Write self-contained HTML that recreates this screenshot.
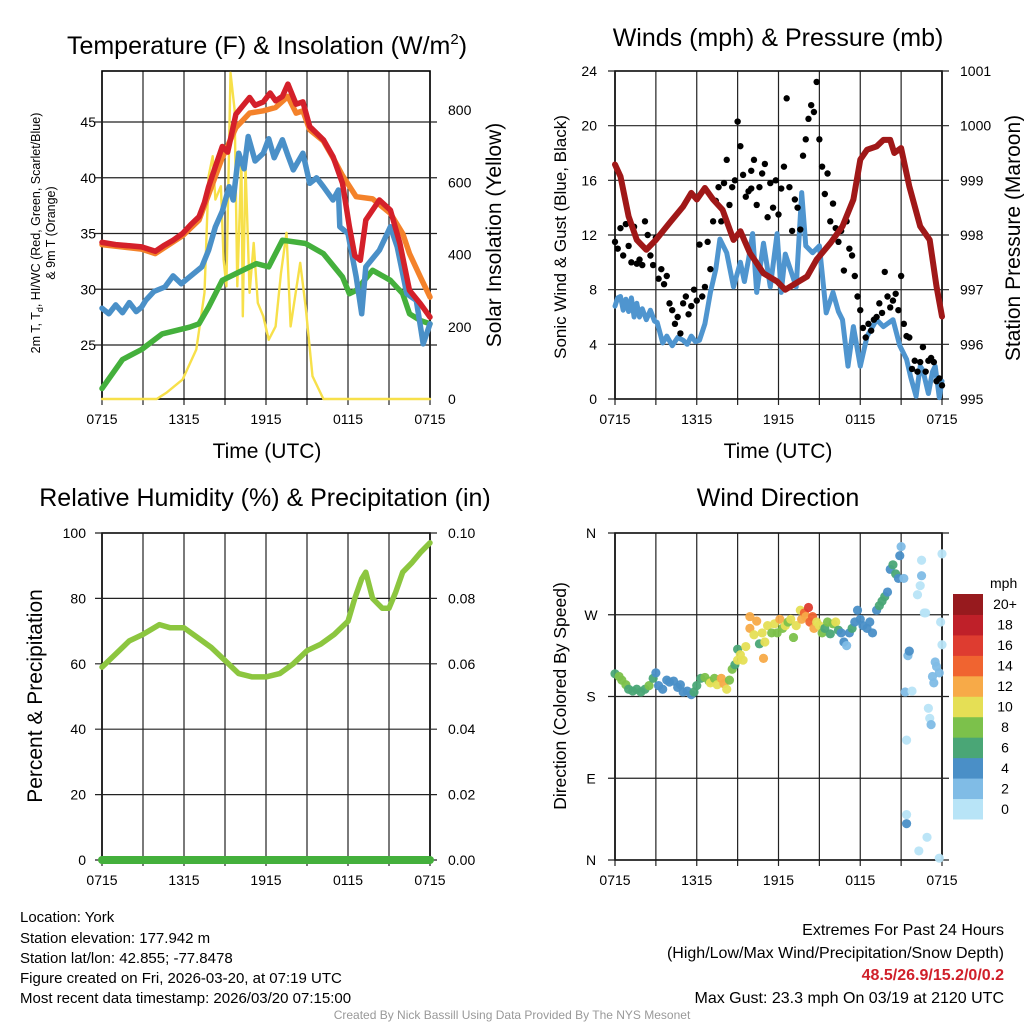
<!DOCTYPE html>
<html><head><meta charset="utf-8"><style>
html,body{margin:0;padding:0;background:#fff;}
svg{display:block;font-family:"Liberation Sans",sans-serif;}
</style></head><body>
<svg id="chart" width="1024" height="1024" viewBox="0 0 1024 1024" xmlns="http://www.w3.org/2000/svg">
<rect x="0" y="0" width="1024" height="1024" fill="#fff"/>
<text x="267" y="54" font-size="25" text-anchor="middle">Temperature (F) &amp; Insolation (W/m<tspan dy="-10" font-size="15">2</tspan><tspan dy="10">)</tspan></text>
<text x="778" y="46" font-size="25" text-anchor="middle">Winds (mph) &amp; Pressure (mb)</text>
<text x="265" y="506" font-size="25" text-anchor="middle">Relative Humidity (%) &amp; Precipitation (in)</text>
<text x="778" y="506" font-size="25" text-anchor="middle">Wind Direction</text>

<text transform="translate(40,233) rotate(-90)" font-size="12.5" text-anchor="middle">2m T, T<tspan dy="3" font-size="9">d</tspan><tspan dy="-3">, HI/WC (Red, Green, Scarlet/Blue)</tspan></text>
<text transform="translate(55,233) rotate(-90)" font-size="12.5" text-anchor="middle">&amp; 9m T (Orange)</text>
<text transform="translate(501,235) rotate(-90)" font-size="21" text-anchor="middle">Solar Insolation (Yellow)</text>
<text transform="translate(566,237) rotate(-90)" font-size="17" text-anchor="middle">Sonic Wind &amp; Gust (Blue, Black)</text>
<text transform="translate(1020,238) rotate(-90)" font-size="21" text-anchor="middle">Station Pressure (Maroon)</text>
<text transform="translate(42,696) rotate(-90)" font-size="21" text-anchor="middle">Percent &amp; Precipitation</text>
<text transform="translate(566,696) rotate(-90)" font-size="17.5" text-anchor="middle">Direction (Colored By Speed)</text>
<text x="267" y="458" font-size="21" text-anchor="middle">Time (UTC)</text>
<text x="778" y="458" font-size="21" text-anchor="middle">Time (UTC)</text>
<text x="990" y="588" font-size="14" text-anchor="start">mph</text>

<g font-size="15">
<text x="20" y="922">Location: York</text>
<text x="20" y="943">Station elevation: 177.942 m</text>
<text x="20" y="963">Station lat/lon: 42.855; -77.8478</text>
<text x="20" y="983">Figure created on Fri, 2026-03-20, at 07:19 UTC</text>
<text x="20" y="1003">Most recent data timestamp: 2026/03/20 07:15:00</text>
</g>
<g font-size="16" text-anchor="end">
<text x="1004" y="935">Extremes For Past 24 Hours</text>
<text x="1004" y="958">(High/Low/Max Wind/Precipitation/Snow Depth)</text>
<text x="1004" y="980" fill="#d0202a" font-weight="bold">48.5/26.9/15.2/0/0.2</text>
<text x="1004" y="1003">Max Gust: 23.3 mph On 03/19 at 2120 UTC</text>
</g>
<text x="512" y="1019" font-size="12" fill="#999" text-anchor="middle">Created By Nick Bassill Using Data Provided By The NYS Mesonet</text>
</svg>
<script>
// ---- data ----
const timeTickLabels = ['0715','1315','1915','0115','0715'];
const tempTicks = [25,30,35,40,45];
const solarTicks = [0,200,400,600,800];
const windTicks = [0,4,8,12,16,20,24];
const presTicks = [995,996,997,998,999,1000,1001];
const rhTicks = [0,20,40,60,80,100];
const precipTickLabels = ['0.00','0.02','0.04','0.06','0.08','0.10'];
const dirTickLabels = ['N','E','S','W','N'];
const speedBinLabels = ['0','2','4','6','8','10','12','14','16','18','20+'];
const speedBinColors = ['#b8e4f7','#80bce6','#4a8fc7','#4aa676','#7cc14b','#e5df55','#f7aa48','#f06430','#de3c30','#bf2029','#971a1e'];

const redT_h = [0,1,2,2.9,3.9,4.5,5.2,5.9,6.5,7.1,7.5,7.8,8.3,8.8,9.2,9.8,10.2,10.8,11.2,11.8,12.3,12.7,13.2,13.6,14.2,14.7,15.2,16.2,16.9,17.6,18.1,18.5,18.9,19.3,20.3,21.1,21.8,22.5,23.3,24];
const redT_v = [34.2,34.0,33.9,33.8,33.4,33.9,34.4,35.0,35.8,36.5,37.8,39.2,41.0,42.8,42.3,45.7,46.3,47.2,46.5,46.8,47.6,46.9,47.3,48.4,46.6,46.8,44.6,43.4,41.9,39.5,35.6,33.0,32.6,36.2,38.0,37.1,34.1,29.9,28.7,27.5];
const orgT_h = [0,2.9,3.9,5.9,7.1,7.8,8.8,9.8,10.8,11.8,12.7,13.6,14.2,14.7,15.2,16.2,16.9,17.6,18.6,19.8,21.1,22,22.5,23.3,24];
const orgT_v = [34.0,33.6,33.2,34.8,36.2,38.5,41.8,44.5,45.8,46.0,46.3,47.3,45.8,46.0,44.3,43.3,41.8,40.2,38.3,38.1,36.8,35,33.2,31.1,29.3];
const blueT_h = [0,0.5,1,1.5,2,2.5,2.9,3.2,3.8,4.6,5.2,5.8,6.4,7.3,7.8,8.3,8.8,9.3,9.6,10,10.4,10.7,11.2,11.8,12.2,12.6,13.2,13.6,14,14.7,15.2,15.7,16.2,16.9,17.3,17.4,18,18.6,19,19.3,20.3,21.1,21.6,22.3,23,23.5,24];
const blueT_v = [28.3,27.8,28.6,27.9,28.8,28.0,28.4,29.0,29.8,30.2,31.2,30.5,31.1,32.0,33.5,35.6,37.0,39.2,38.0,42.2,40.8,43.7,41.5,42.2,43.5,41.8,43.4,42.0,40.7,42.2,39.5,40.0,39.2,38.0,38.9,35.6,35.0,31.1,27.8,32.0,33.5,35.6,33.8,29.6,29.0,25.1,26.9];
const grnT_h = [0,1.5,2.9,4.4,6.4,7.1,7.8,8.8,9.8,11.3,12.2,13.2,14.9,16.2,17.6,18.1,18.6,19.8,21.1,22,22.5,23.3,24];
const grnT_v = [21.1,23.7,24.6,26.0,26.6,26.9,28.4,30.8,31.4,32.3,32.0,34.4,34.1,33.2,31.1,29.6,29.9,31.7,30.8,29.6,27.8,27.2,26.9];
const solar_h = [0,4.0,4.7,5.9,6.9,7.5,7.8,8.1,8.3,8.7,8.9,9.1,9.4,9.7,9.9,10.2,10.3,10.5,10.8,11.1,11.4,11.8,12.2,12.7,13.1,13.5,13.8,14.5,14.9,15.4,16.2,24];
const solar_v = [0,0,17,54,137,294,617,672,552,589,386,312,903,801,312,663,229,645,294,432,266,229,164,201,349,460,201,377,257,63,0,0];

const pres_h = [0,0.4,1,1.6,2.3,3,4,5,5.6,6,6.6,7.2,7.9,8.7,9.2,9.9,10.9,11.9,12.5,13.3,14.1,14.8,15.8,16.7,17.5,18,18.5,19.2,19.7,20.2,20.5,21,21.6,22.4,23.1,23.6,24];
const pres_v = [999.29,999.07,998.34,997.91,997.73,997.91,998.22,998.52,998.77,998.65,998.86,998.65,998.46,997.91,998.07,997.67,997.3,997.15,997.0,997.12,997.24,997.55,997.85,998.16,998.65,999.38,999.56,999.62,999.74,999.74,999.5,999.59,998.89,998.16,997.91,997.06,996.51];
const wind_h = [0,0.2,0.4,0.6,0.8,1,1.2,1.4,1.6,1.8,2,2.3,2.6,2.9,3.1,3.5,3.8,4.2,4.6,5,5.3,5.6,5.9,6.2,6.6,7,7.4,7.7,8.2,8.7,9.2,9.5,9.8,10.1,10.4,10.9,11.4,11.9,12.2,12.5,12.8,13.3,13.7,14,14.5,15,15.5,16,16.4,16.7,17.1,17.5,18,18.5,19.2,19.7,20.4,20.9,21.4,21.7,22.1,22.4,22.6,23,23.3,23.5,23.8,24];
const wind_v = [6.8,7.4,7.5,6.5,7.3,6.4,7.4,6.0,7.0,6.0,6.6,5.8,6.5,5.7,5.6,4.1,4.6,3.9,4.5,4.3,4.0,4.6,4.2,4.3,5.5,7.8,9.5,11.7,10.7,8.2,10.0,8.6,10.2,12.1,7.8,11.4,8.2,12.1,7.8,10.6,9.7,8.2,15.1,11.2,10.7,11.2,6.3,7.8,6.4,5.8,2.4,5.3,2.4,4.6,5.8,5.3,5.8,3.9,2.9,1.6,0.2,2.4,2.1,0.4,2.0,2.4,0.1,1.3];
const gust_h = [0,0.2,0.4,0.6,0.8,1,1.2,1.4,1.6,1.8,2,2.2,2.4,2.6,2.8,3,3.2,3.4,3.6,3.8,4,4.2,4.4,4.6,4.8,5,5.2,5.4,5.6,5.8,6,6.2,6.4,6.6,6.8,7,7.2,7.4,7.6,7.8,8,8.2,8.4,8.6,8.8,9,9.2,9.4,9.6,9.8,10,10,10.2,10.4,10.6,10.8,11,11.2,11.4,11.6,11.8,12,12.2,12.4,12.6,12.8,13,13.2,13.4,13.6,13.8,14,14.2,14.4,14.6,14.8,15,15.2,15.4,15.6,15.8,16,16.2,16.4,16.6,16.8,17,17.2,17.4,17.6,17.8,18,18.2,18.4,18.6,18.8,19,19.2,19.4,19.6,19.8,20,20.2,20.4,20.6,20.8,21,21.2,21.4,21.6,21.8,22,22.2,22.4,22.6,22.8,23,23.2,23.4,23.6,23.8,24];
const gust_v = [11.5,11,12.5,10.5,12.8,11.2,10,12.6,9.9,10.2,9.8,13,12,10.5,9.8,11.8,8.8,9.5,8.4,9,7,6.5,5.5,6,4.8,7,7.5,6.2,6.8,8,7.2,11.3,7.5,8.2,11.5,9.5,13,14.5,15.5,13,15.8,17.5,14.2,15.5,16,20.3,18.5,16.4,14.8,15.2,16.7,15.4,17.5,14.2,15.5,16.5,17.2,13.3,15.8,14,16,13.5,15.4,17,22,15.5,12.3,14.6,14,12.4,17.8,19,20.5,21.5,21,23.2,19,17,15,16.5,13,14.3,12.5,11.5,12.3,9.4,13,11,10.5,9,7.5,6.5,5.2,4.5,5.5,5,5.8,6,7,6.3,9.3,7.5,6.7,7.2,7.7,6.5,9,5.5,4.6,4.5,2.2,2.8,2,2.7,3.8,2,2.8,3,2.7,1.3,1.5,1];

const rh_h = [0,1,2,3,4.2,5,6,7,8,9,10,11,12,13,14,15,16,17,18,18.5,19,19.3,19.8,20.5,21,21.5,22,22.7,23.3,24];
const rh_v = [59,63,67,69,72,71,71,68,65,61,57,56,56,57,60,64,66,69,73,80,86,88,80,77,77,82,88,91,94,97];
const precip_h = [0,24];
const precip_v = [0,0];

const dir_h = [0,0.3,0.5,0.8,1,1.3,1.6,1.9,2.2,2.5,2.8,3,3.2,3.5,3.8,4,4.3,4.6,4.8,5,5.3,5.6,5.8,6,6.3,6.6,6.9,7,7.3,7.5,7.8,8,8.2,8.4,8.6,8.8,9,9,9.2,9.4,9.6,9.9,9.9,10.2,10.4,10.6,10.8,10.9,11,11.2,11.5,11.7,11.9,12.1,12.3,12.5,12.7,12.9,13.1,13.3,13.6,13.7,13.9,14,14.2,14.3,14.5,14.6,14.8,15,15.2,15.4,15.6,15.8,16,16.2,16.4,16.6,16.8,17,17.2,17.4,17.6,17.8,18,18.2,18.5,18.7,18.9,19.2,19.4,19.6,19.8,20,20.2,20.4,20.6,20.8,20.9,21,21.2,21.5,21.6,21.3,21.4,21.4,21.4,21.8,22.2,22.4,22.5,22.5,22.7,22.8,23,23.1,23.2,23.3,23.4,23.6,23.5,23.8,23.9,24,24,22.3,22.9,23.8];
const dir_v = [205,202,198,193,188,186,188,185,188,192,200,206,192,188,198,196,197,190,193,185,186,182,185,192,200,201,197,195,200,193,200,194,188,198,210,215,232,220,226,220,235,255,268,248,263,238,250,222,240,258,250,260,250,265,255,258,262,265,245,258,275,265,272,268,278,262,268,255,262,258,250,255,262,249,260,262,253,250,240,236,250,255,262,275,265,258,255,262,250,275,280,285,290,295,320,325,315,310,335,345,310,225,230,185,132,50,40,186,292,302,313,330,272,272,167,156,149,202,195,213,218,206,262,237,337,10,25,2];
const dir_s = [6,8,8,8,6,6,6,6,6,8,6,4,4,4,4,4,4,4,4,4,4,4,6,6,6,8,8,10,8,10,12,12,10,8,8,6,6,10,10,10,10,12,12,10,12,6,10,12,10,10,8,10,8,12,8,10,8,10,8,10,10,12,14,12,16,14,14,12,10,10,8,6,8,6,8,10,6,4,4,2,4,6,4,4,4,4,4,4,4,4,6,6,6,4,4,6,6,4,4,2,2,2,4,2,0,0,4,0,0,0,2,0,0,0,0,0,2,2,2,2,2,2,0,0,0,0,0,0];

// ---- drawing ----
const NS='http://www.w3.org/2000/svg';
const svg=document.getElementById('chart');
function mk(tag,attrs){const e=document.createElementNS(NS,tag);for(const k in attrs)e.setAttribute(k,attrs[k]);svg.appendChild(e);return e;}
function lin(d0,d1,r0,r1){return v=>r0+(v-d0)/(d1-d0)*(r1-r0);}
const P1={x0:102,x1:430,y0:71,y1:399}, P2={x0:615,x1:942,y0:71,y1:399}, P3={x0:102,x1:430,y0:533,y1:860}, P4={x0:615,x1:942,y0:533,y1:860};
const x1s=lin(0,24,P1.x0,P1.x1), x2s=lin(0,24,P2.x0,P2.x1), x3s=lin(0,24,P3.x0,P3.x1), x4s=lin(0,24,P4.x0,P4.x1);
const tS=lin(25,45,345,122), solS=lin(0,800,399,110);
const wS=lin(0,24,399,71), pS=lin(995,1001,399,71);
const rhS=lin(0,100,860,533), prS=lin(0,0.1,860,533);
const dS=lin(0,360,860,533);

function frame(P,name){
  for(let i=0;i<=8;i++){const x=P.x0+(P.x1-P.x0)*i/8;
    const g=mk('line',{x1:x,x2:x,y1:P.y0,y2:P.y1+6,stroke:'#222','stroke-width':1.2});
    
    }
  const r=mk('rect',{x:P.x0,y:P.y0,width:P.x1-P.x0,height:P.y1-P.y0,fill:'none',stroke:'#000','stroke-width':1.6});
  
  
  timeTickLabels.forEach((t,i)=>{const x=P.x0+(P.x1-P.x0)*i/4;
    const tx=mk('text',{x:x,y:P.y1+25,'font-size':14,'text-anchor':'middle'});tx.textContent=t;
    
    });
}
function hgrid(P,y,name){const g=mk('line',{x1:P.x0-7,x2:P.x1+7,y1:y,y2:y,stroke:'#222','stroke-width':1.2});
  
  }
function label(x,y,t,anchor,name){const tx=mk('text',{x:x,y:y+5,'font-size':14,'text-anchor':anchor});tx.textContent=t;
  
  }
function pathOf(hs,vs,xs,ys){return hs.map((h,i)=>(i?'L':'M')+xs(h).toFixed(1)+','+ys(vs[i]).toFixed(1)).join('');}
function line(hs,vs,xs,ys,color,w,name){const p=mk('path',{d:pathOf(hs,vs,xs,ys),fill:'none',stroke:color,'stroke-width':w,'stroke-linejoin':'round','stroke-linecap':'round'});
  
  }

// Panel 1
frame(P1,'temp');
tempTicks.forEach(t=>{hgrid(P1,tS(t),'temp');label(96,tS(t),String(t),'end','temp-y-tick-label');});
solarTicks.forEach(t=>{label(448,solS(t),String(t),'start','solar-y-tick-label');});
line(solar_h,solar_v,x1s,solS,'#f7e04a',2.4,'solar-insolation-line');
line(grnT_h,grnT_v,x1s,tS,'#44b03c',5.5,'dewpoint-line');
line(blueT_h,blueT_v,x1s,tS,'#4a90c8',5.5,'heat-index-windchill-line');
line(orgT_h,orgT_v,x1s,tS,'#f4822a',5.5,'temp-9m-line');
line(redT_h,redT_v,x1s,tS,'#d4202a',5.5,'temp-2m-line');

// Panel 2
frame(P2,'wind');
windTicks.forEach(t=>{hgrid(P2,wS(t),'wind');label(597,wS(t),String(t),'end','wind-y-tick-label');});
presTicks.forEach(t=>{label(960,pS(t),String(t),'start','pressure-y-tick-label');});
line(wind_h,wind_v,x2s,wS,'#4f95cf',5,'sonic-wind-line');
gust_h.forEach((h,i)=>{const c=mk('circle',{cx:x2s(h),cy:wS(gust_v[i]),r:3.2,fill:'#000'});
  
  });
line(pres_h,pres_v,x2s,pS,'#a01818',6,'pressure-line');

// Panel 3
frame(P3,'rh');
rhTicks.forEach((t,i)=>{hgrid(P3,rhS(t),'rh');label(86,rhS(t),String(t),'end','rh-y-tick-label');label(448,rhS(t),precipTickLabels[i],'start','precip-y-tick-label');});
line(rh_h,rh_v,x3s,rhS,'#8cc63f',5.5,'rh-line');
line(precip_h,precip_v,x3s,prS,'#44b03c',8,'precip-line');

// Panel 4
frame(P4,'dir');
dirTickLabels.forEach((t,i)=>{const y=dS(i*90);hgrid(P4,y,'dir');label(591,y,t,'middle','dir-y-tick-label');});
dir_h.forEach((h,i)=>{const bin=Math.min(10,Math.floor(dir_s[i]/2));
  const c=mk('circle',{cx:x4s(h),cy:dS(dir_v[i]),r:4.6,fill:speedBinColors[bin],opacity:0.95});
  
  });
// colorbar
const cbTop=594, cbH=225/11;
speedBinLabels.forEach((t,i)=>{const y=cbTop+(10-i)*cbH;
  const r=mk('rect',{x:953,y:y,width:30,height:cbH+0.5,fill:speedBinColors[i]});
  
  
  const tx=mk('text',{x:1005,y:y+cbH/2+5,'font-size':14,'text-anchor':'middle'});tx.textContent=t;
  
  });
</script>
</body></html>
